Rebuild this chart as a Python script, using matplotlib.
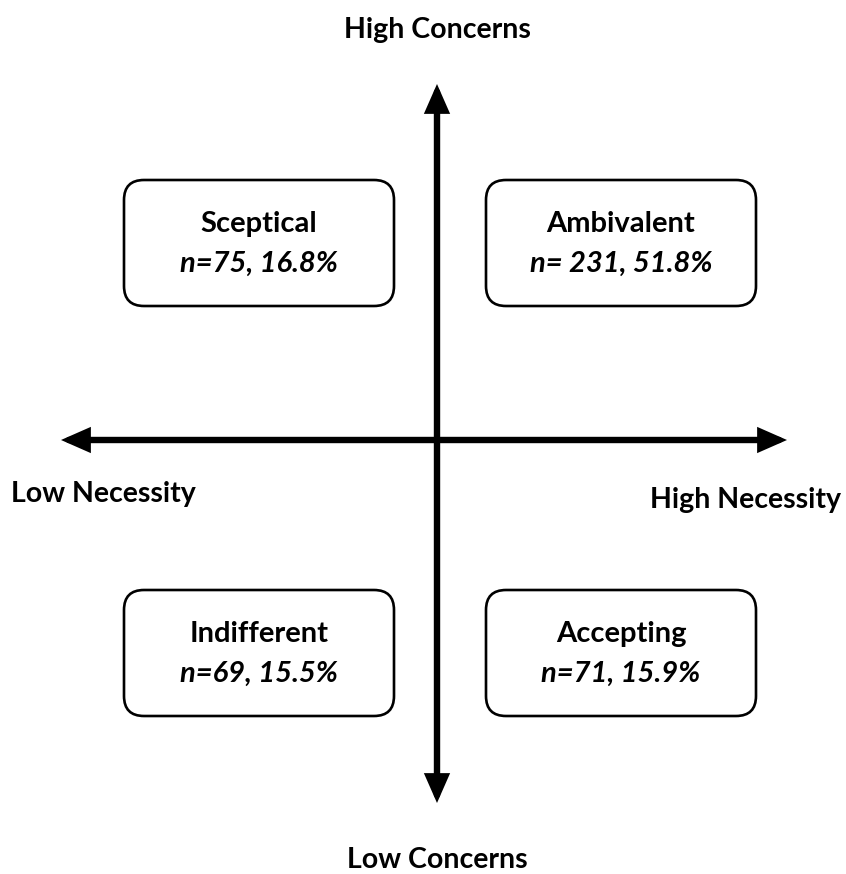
import matplotlib.pyplot as plt
from matplotlib.patches import FancyBboxPatch

# quadrant data
groups = ["Sceptical", "Ambivalent", "Indifferent", "Accepting"]
counts = [75, 231, 69, 71]
percents = [16.8, 51.8, 15.5, 15.9]
count_fmt = ["n={}", "n= {}", "n={}", "n={}"]

axis_labels = ["High Concerns", "Low Concerns", "Low Necessity", "High Necessity"]

plt.rcParams['font.family'] = ['Lato', 'DejaVu Sans']

fig = plt.figure(figsize=(8.46, 8.74), dpi=100)
ax = fig.add_axes([0, 0, 1, 1])
ax.set_xlim(0, 846)
ax.set_ylim(874, 0)
ax.axis('off')

cx, cy = 437, 440

# axes arrows
arrow_kw = dict(arrowstyle='-|>,head_length=0.75,head_width=0.33', color='black',
                lw=4.6, shrinkA=0, shrinkB=0, mutation_scale=18, joinstyle='miter')
ax.annotate('', xy=(cx, 84), xytext=(cx, cy), arrowprops=arrow_kw)
ax.annotate('', xy=(cx, 803), xytext=(cx, cy), arrowprops=arrow_kw)
ax.annotate('', xy=(61, cy), xytext=(cx, cy), arrowprops=arrow_kw)
ax.annotate('', xy=(787, cy), xytext=(cx, cy), arrowprops=arrow_kw)

# axis labels
lab_kw = dict(ha='center', va='center', fontsize=20.5, fontweight='bold')
ax.text(cx, 30, axis_labels[0], **lab_kw)
ax.text(cx, 860, axis_labels[1], **lab_kw)
ax.text(103, 494, axis_labels[2], **lab_kw)
ax.text(745, 500, axis_labels[3], **lab_kw)

# boxes
box_x = [124, 486, 124, 486]
box_y = [180, 180, 590, 590]
bw, bh = 270, 126
for i, g in enumerate(groups):
    box = FancyBboxPatch((box_x[i], box_y[i]), bw, bh,
                         boxstyle='round,pad=0,rounding_size=20',
                         fc='white', ec='black', lw=1.9)
    ax.add_patch(box)
    mx = box_x[i] + bw / 2
    ax.text(mx, box_y[i] + 44, g, ha='center', va='center', fontsize=21, fontweight='bold')
    ax.text(mx, box_y[i] + 84, count_fmt[i].format(counts[i]) + ", {}%".format(percents[i]),
            ha='center', va='center', fontsize=21, fontweight='bold', fontstyle='italic')

plt.savefig('out.png', dpi=100)
